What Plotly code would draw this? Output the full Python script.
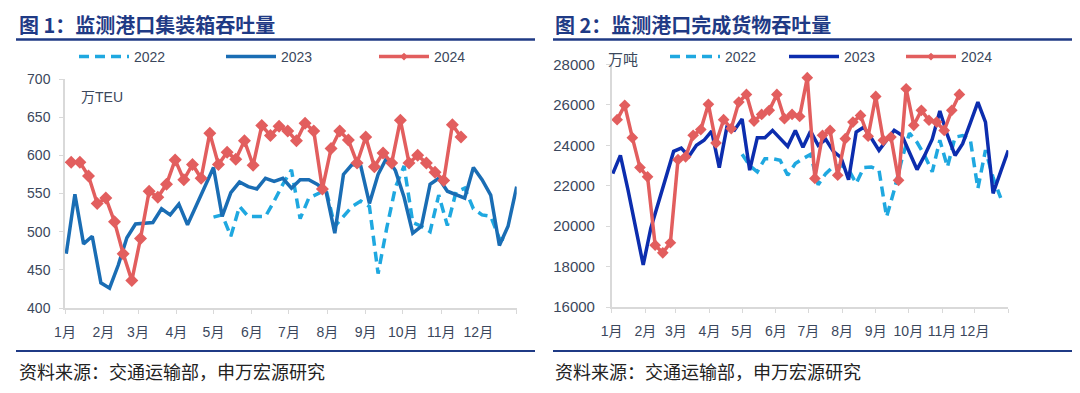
import pandas as pd
import plotly.graph_objects as go

W, H = 1080, 393
OFF = 8  # the page body adds an 8px offset; layout pixel positions are compensated for it
FONT = "Liberation Sans, Noto Sans CJK SC, sans-serif"
CJK = "Noto Sans CJK SC, sans-serif"

# ---------------- data ----------------
# weekly observations, all placed on a common Jan..Dec calendar (nominal year 2023)
month_labels = ["1月", "2月", "3月", "4月", "5月", "6月", "7月", "8月", "9月", "10月", "11月", "12月"]
start_2022 = "2023-05-01"   # 2022 series starts around early May
start_2023 = "2023-01-02"
start_2024 = "2023-01-06"

teu_2022 = [519, 522, 494, 533, 520, 520, 520, 540, 562, 581, 517, 544, 550, 555, 507, 520,
            533, 540, 533, 445, 505, 558, 586, 512, 507, 500, 548, 508, 552, 557, 530, 522,
            520, 491, 489]
teu_2023 = [471, 549, 484, 494, 433, 426, 456, 492, 510, 511, 512, 530, 522, 536, 509, 534,
            558, 584, 520, 551, 565, 559, 556, 570, 566, 570, 557, 568, 568, 562, 552, 498,
            575, 588, 586, 537, 575, 597, 580, 545, 498, 507, 562, 570, 553, 549, 544, 584,
            568, 548, 482, 507, 559]
teu_2024 = [591, 591, 573, 537, 544, 513, 471, 436, 491, 553, 545, 562, 594, 568, 588, 570,
            629, 588, 604, 595, 619, 587, 639, 626, 638, 632, 619, 642, 632, 556, 609, 632,
            620, 590, 624, 585, 603, 590, 646, 590, 600, 590, 578, 567, 640, 624]

cargo_2022 = [23560, 23000, 22690, 23340, 23340, 23260, 22520, 23100, 23340, 23550, 22050,
              22600, 22950, 23000, 22800, 22110, 22900, 22930, 22770, 20460, 21780, 23300,
              24600, 24150, 23500, 22690, 24250, 22930, 24410, 24480, 24300, 21860, 23760,
              22400, 21400]
cargo_2023 = [22600, 23500, 21800, 19900, 18080, 19900, 21200, 22500, 23700, 23860, 23450,
              24000, 24250, 24700, 22900, 24900, 24750, 25300, 22770, 24380, 24380, 24740,
              24330, 23950, 24740, 23900, 24700, 24000, 24300, 23700, 23400, 22300, 24660,
              24900, 24350, 23750, 24250, 24740, 24500, 23700, 22800, 23500, 24300, 25700,
              24500, 23500, 24080, 25100, 26140, 25150, 21620, 22700, 23750]
cargo_2024 = [25270, 25980, 24380, 22900, 22440, 19060, 18680, 19180, 23290, 23430, 24500,
              24780, 26030, 24120, 25270, 24830, 26140, 26520, 25200, 25530, 25730, 26520,
              25320, 25530, 25430, 27350, 22360, 24500, 24740, 22520, 24330, 25150, 25480,
              24450, 26420, 24250, 24410, 22270, 26800, 24990, 25730, 25240, 25150, 24740,
              25730, 26520]

titles = ["图 1：监测港口集装箱吞吐量", "图 2：监测港口完成货物吞吐量"]
source_text = "资料来源：交通运输部，申万宏源研究"
unit_labels = ["万TEU", "万吨"]
series_names = ["2022", "2023", "2024"]

# ---------------- styles ----------------
C22 = "#1FA8E0"
C23A = "#1A6DB4"
C23B = "#0C2DAE"
C24 = "#E25E5E"
NAVY = "#1F3A85"
TICK = "#3B475C"
AXC = "#D9D9D9"


def weeks(start, n):
    return pd.date_range(start, periods=n, freq="7D")


def px(x):
    return (x - OFF) / W


def py(y):
    return 1 - (y - OFF) / H


fig = go.Figure()

panels = [
    dict(xa="x", ya="y", data=[teu_2022, teu_2023, teu_2024], c23=C23A, msize=10,
         legends=["legend", "legend2", "legend3"]),
    dict(xa="x2", ya="y2", data=[cargo_2022, cargo_2023, cargo_2024], c23=C23B, msize=9,
         legends=["legend4", "legend5", "legend6"]),
]

for p in panels:
    d22, d23, d24 = p["data"]
    styles = [
        dict(color=C22, width=3.5, dash="10px,6px"),
        dict(color=p["c23"], width=3.5),
        dict(color=C24, width=3.5),
    ]
    xs = [weeks(start_2022, len(d22)), weeks(start_2023, len(d23)), weeks(start_2024, len(d24))]
    for k, (xv, yv) in enumerate(zip(xs, [d22, d23, d24])):
        tr = dict(x=xv, y=yv, name=series_names[k], xaxis=p["xa"], yaxis=p["ya"],
                  line=styles[k], showlegend=False, hoverinfo="skip")
        if k == 2:
            tr.update(mode="lines+markers",
                      marker=dict(symbol="diamond", size=p["msize"], color=C24))
        else:
            tr.update(mode="lines")
        fig.add_trace(go.Scatter(**tr))
    # legend-only entries (smaller legend markers, like the original)
    for k in range(3):
        tr = dict(x=[None], y=[None], name=series_names[k], xaxis=p["xa"], yaxis=p["ya"],
                  line=styles[k], showlegend=True, legend=p["legends"][k])
        if k == 2:
            tr.update(mode="lines+markers", marker=dict(symbol="diamond", size=6, color=C24))
        else:
            tr.update(mode="lines")
        fig.add_trace(go.Scatter(**tr))

tickvals = list(pd.date_range("2023-01-01", "2024-01-01", freq="MS"))
ticktext = month_labels + [""]

axis_common = dict(showgrid=False, zeroline=False, showline=True, linecolor=AXC, linewidth=1.5,
                   ticks="outside", tickcolor=AXC, ticklen=4, automargin=False,
                   tickfont=dict(size=14, color=TICK, family=FONT))

xa_common = dict(axis_common, type="date", range=["2023-01-01", "2024-01-01"],
                 tickmode="array", tickvals=tickvals, ticktext=ticktext, ticklabelstandoff=6)

fig.update_layout(
    width=W, height=H, autosize=False,
    margin=dict(l=0, r=0, t=0, b=0, pad=0, autoexpand=False),
    paper_bgcolor="white", plot_bgcolor="white",
    font=dict(family=FONT, color=TICK),
    xaxis=dict(xa_common, domain=[px(65), px(516.7)], anchor="y"),
    yaxis=dict(axis_common, range=[400, 700], dtick=50, domain=[py(308), py(79)], anchor="x",
               ticklabelstandoff=6),
    xaxis2=dict(xa_common, domain=[px(611.7), px(1008.3)], anchor="y2"),
    yaxis2=dict(axis_common, range=[16000, 28000], dtick=2000, tickformat="d",
                domain=[py(307), py(64.5)], anchor="x2",
                tickfont=dict(size=15, color=TICK, family=FONT), ticklabelstandoff=8),
)

# legend text starts (px): chart 1 -> 136, 283, 436 ; chart 2 -> 727, 846, 963
LEG_ITEMW = 50
leg_text_x = {"legend": 136, "legend2": 283, "legend3": 436,
              "legend4": 727, "legend5": 846, "legend6": 963}
for name, tx in leg_text_x.items():
    fig.update_layout({name: dict(x=px(tx - LEG_ITEMW - 12), y=py(57), xanchor="left",
                                  yanchor="middle", orientation="h", itemwidth=LEG_ITEMW,
                                  bgcolor="rgba(0,0,0,0)",
                                  font=dict(size=14, color=TICK, family=FONT))})

ann = []
for i, x0 in enumerate([17, 553]):
    ann.append(dict(text="<b>" + titles[i] + "</b>", x=px(x0), y=py(24), xref="paper", yref="paper",
                    xanchor="left", yanchor="middle", showarrow=False,
                    font=dict(size=20, color=NAVY, family=CJK)))
    ann.append(dict(text=source_text, x=px(x0), y=py(371), xref="paper", yref="paper",
                    xanchor="left", yanchor="middle", showarrow=False,
                    font=dict(size=18, color="#222222", family=CJK)))
ann.append(dict(text=unit_labels[0], x=px(79), y=py(97), xref="paper", yref="paper",
                xanchor="left", yanchor="middle", showarrow=False,
                font=dict(size=14, color=TICK, family=FONT)))
ann.append(dict(text=unit_labels[1], x=px(606), y=py(60), xref="paper", yref="paper",
                xanchor="left", yanchor="middle", showarrow=False,
                font=dict(size=15, color=TICK, family=FONT)))

shapes = []
for x0, x1 in [(16, 535), (553, 1076)]:
    shapes.append(dict(type="line", xref="paper", yref="paper", x0=px(x0), x1=px(x1),
                       y0=py(39.5), y1=py(39.5), line=dict(color=NAVY, width=2.5)))
    shapes.append(dict(type="line", xref="paper", yref="paper", x0=px(x0), x1=px(x1),
                       y0=py(351), y1=py(351), line=dict(color=NAVY, width=2)))

fig.update_layout(annotations=ann, shapes=shapes)

fig.write_html("out.html")
